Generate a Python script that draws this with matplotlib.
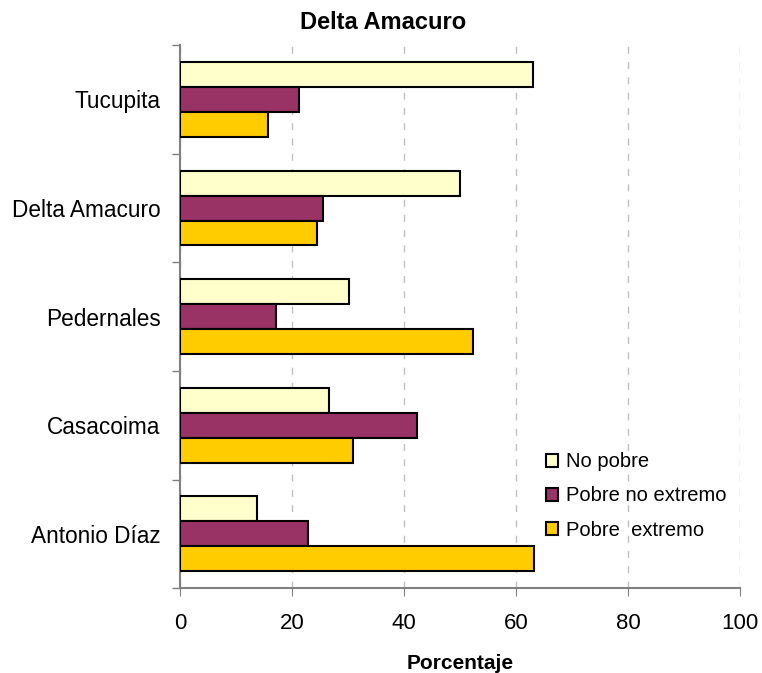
import numpy as np
import matplotlib.pyplot as plt

plt.rcParams['font.family'] = ['Liberation Sans', 'DejaVu Sans']

# Data (top to bottom)
municipios = ['Tucupita', 'Delta Amacuro', 'Pedernales', 'Casacoima', 'Antonio Díaz']
no_pobre = [63.0, 50.1, 30.2, 26.6, 13.8]
pobre_no_extremo = [21.2, 25.5, 17.1, 42.4, 22.9]
pobre_extremo = [15.7, 24.5, 52.4, 31.0, 63.3]
series_names = ['No pobre', 'Pobre no extremo', 'Pobre  extremo']
colors = ['#FFFFCC', '#993366', '#FFCC00']

fig = plt.figure(figsize=(7.62, 6.73), dpi=100)
ax = fig.add_axes([0.236, 0.126, 0.735, 0.807])

n = len(municipios)
y = np.arange(n)[::-1]  # Tucupita at top
h = 0.23
series = [no_pobre, pobre_no_extremo, pobre_extremo]
for i, (vals, name, col) in enumerate(zip(series, series_names, colors)):
    ax.barh(y + (1 - i) * h, vals, height=h, color=col, edgecolor='black',
            linewidth=1.5, label=name, zorder=3)

ax.set_xlim(0, 100)
ax.set_ylim(-0.5, n - 0.5)
ax.set_xticks(np.arange(0, 101, 20))
ax.set_yticks(y)
ax.set_yticklabels(municipios)
ax.set_yticks(np.arange(-0.5, n, 1), minor=True)
ax.tick_params(axis='y', which='major', length=0, labelsize=16.3, pad=14)
ax.tick_params(axis='y', which='minor', length=6, color='#808080', width=1)
ax.tick_params(axis='x', length=6, color='#808080', labelsize=16, pad=12)

ax.xaxis.grid(True, linestyle=(0, (5, 6)), color='#C0C0C0', linewidth=1, zorder=0)
for s in ['top', 'right']:
    ax.spines[s].set_visible(False)
for s in ['left', 'bottom']:
    ax.spines[s].set_color('#808080')
    ax.spines[s].set_linewidth(1.5)

fig.text(0.503, 0.967, 'Delta Amacuro', fontsize=17, fontweight='bold',
         ha='center', va='center')
ax.set_xlabel('Porcentaje', fontsize=15, fontweight='bold', labelpad=14)

leg = ax.legend(loc='upper left', bbox_to_anchor=(0.64, 0.265), frameon=False,
                fontsize=14.5, handlelength=0.6, handleheight=0.6,
                handletextpad=0.4, labelspacing=0.75, borderaxespad=0)

fig.savefig('out.png', dpi=100)
